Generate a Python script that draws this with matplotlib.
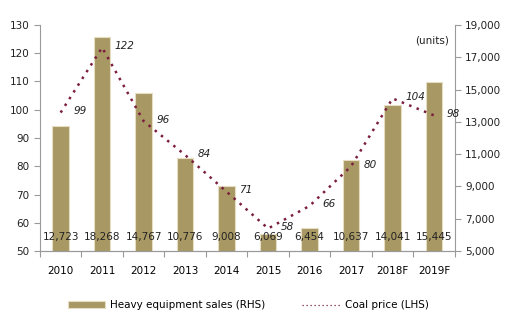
import matplotlib.pyplot as plt
import numpy as np

years = ["2010", "2011", "2012", "2013", "2014", "2015", "2016", "2017", "2018F", "2019F"]
sales = [12723, 18268, 14767, 10776, 9008, 6069, 6454, 10637, 14041, 15445]
coal = [99, 122, 96, 84, 71, 58, 66, 80, 104, 98]

bar_color = "#A89863"
line_color = "#7B1E3E"
grey = "#9a9a9a"
txt = "#222222"

plt.rcParams["font.family"] = ["DejaVu Sans"]
plt.rcParams["font.size"] = 7.5

fig = plt.figure(figsize=(5.18, 3.24), dpi=100)
ax = fig.add_axes([0.077, 0.225, 0.801, 0.698])
ax2 = ax.twinx()

x = np.arange(len(years))

# bars on the right-hand axis
ax2.bar(x, sales, width=0.4, color=bar_color, edgecolor="#E6DDC2",
        linewidth=0.8, zorder=2, label="Heavy equipment sales (RHS)")
ax2.set_ylim(5000, 19000)
ax2.set_yticks(np.arange(5000, 19001, 2000))
ax2.set_yticklabels([f"{v:,}" for v in range(5000, 19001, 2000)])

# coal price on the left-hand axis
ax.set_ylim(50, 130)
ax.set_yticks(range(50, 131, 10))
ax.set_xlim(-0.5, len(years) - 0.5)
ax.set_xticks(np.arange(-0.5, len(years), 1))
ax.set_xticklabels([])
ax.set_xticks(x, minor=True)
ax.set_xticklabels(years, minor=True)
ax.tick_params(axis="x", which="minor", length=0, pad=11)
ax.tick_params(axis="x", which="major", length=4, color=grey)

ax.set_zorder(ax2.get_zorder() + 1)
ax.patch.set_visible(False)
ax.plot(x, coal, linestyle=(0, (1, 2.2)), linewidth=1.8, color=line_color,
        label="Coal price (LHS)", zorder=3)

for xi, v in zip(x, coal):
    ax.text(xi + 0.3, v + 0.5, str(v), ha="left", va="center", style="italic",
            fontsize=7.5, color=txt)

for xi, v in zip(x, sales):
    ax.text(xi, 55, f"{v:,}", ha="center", va="center", fontsize=7.5,
            color=txt, zorder=4)

for a in (ax, ax2):
    a.spines["top"].set_visible(False)
    for s in ("left", "right", "bottom"):
        a.spines[s].set_color(grey)
    a.tick_params(axis="y", length=4, color=grey, labelsize=7.5, labelcolor=txt)
ax.tick_params(axis="x", labelsize=7.5, labelcolor=txt)
ax2.spines["left"].set_visible(False)
ax.spines["right"].set_visible(False)

ax2.text(0.985, 0.955, "(units)", transform=ax2.transAxes, ha="right", va="top",
         fontsize=7.5, color=txt)

h1, l1 = ax2.get_legend_handles_labels()
h2, l2 = ax.get_legend_handles_labels()
leg = fig.legend(h1 + h2, l1 + l2, loc="center", bbox_to_anchor=(0.479, 0.058), ncol=2,
                 frameon=False, fontsize=7.5, handlelength=3.6, columnspacing=3.5,
                 handleheight=0.6, handletextpad=0.5)
for ln in leg.get_lines():
    ln.set_linewidth(0.9)

fig.savefig("out.png", dpi=100)
